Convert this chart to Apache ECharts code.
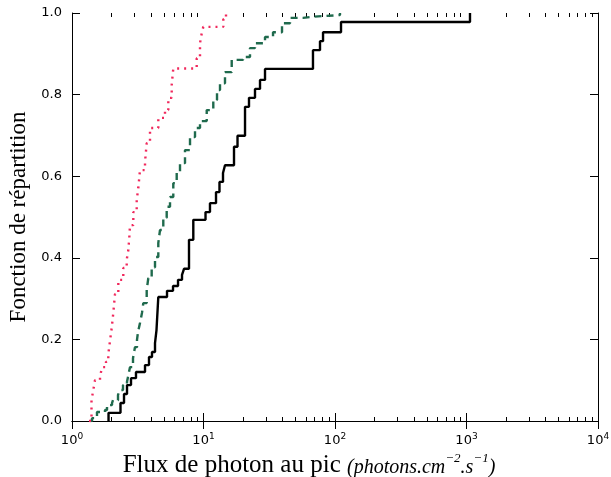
<!DOCTYPE html>
<html>
<head>
<meta charset="utf-8">
<script src="https://cdn.jsdelivr.net/npm/echarts@6/dist/echarts.min.js"></script>
<style>
  html, body { margin: 0; padding: 0; background: #fff; }
  #chart { width: 611px; height: 477px; }
</style>
</head>
<body>
<div id="chart"></div>
<script>
// step positions (x = flux, y = cumulative fraction)
var blackX = [1.896, 2.338, 2.486, 2.62, 2.81, 3.066, 3.591, 3.851, 4.058, 4.278, 4.391, 4.532,
              5.279, 5.864, 6.401, 6.864, 7.108, 7.758, 8.365, 10.36, 11.2, 12.45, 13.23, 14.07,
              14.57, 17.06, 18.14, 20.69, 22.18, 24.64, 26.9, 29.36, 68.0, 76.9, 81.1, 111.1, 1063];
var blackY = [0.02, 0.044, 0.066, 0.088, 0.105, 0.12, 0.137, 0.157, 0.169, 0.191, 0.223, 0.304,
              0.319, 0.331, 0.346, 0.358, 0.373, 0.444, 0.493, 0.512, 0.534, 0.561, 0.586, 0.608,
              0.627, 0.672, 0.699, 0.77, 0.792, 0.814, 0.836, 0.863, 0.909, 0.931, 0.953, 0.978, 1.0];

var greenX = [1.37, 1.42, 1.549, 1.782, 1.846, 2.015, 2.05, 2.238, 2.317, 2.443, 2.62, 2.666,
              2.761, 2.91, 3.013, 3.121, 3.176, 3.289, 3.406, 3.485, 3.699, 3.804, 4.036, 4.278,
              4.532, 4.669, 4.946, 5.25, 5.563, 5.892, 6.255, 6.627, 7.233, 7.897, 8.618, 9.406,
              10.58, 11.87, 12.67, 13.35, 14.57, 16.39, 19.97, 22.57, 24.64, 29.36, 33.78, 39.54,
              45.49, 57.1, 68.0, 109.1];
var greenY = [0, 0.007, 0.022, 0.027, 0.039, 0.044, 0.051, 0.064, 0.076, 0.088, 0.096, 0.108,
              0.132, 0.154, 0.181, 0.199, 0.218, 0.24, 0.265, 0.289, 0.321, 0.35, 0.377, 0.402,
              0.436, 0.468, 0.498, 0.525, 0.549, 0.583, 0.608, 0.632, 0.664, 0.696, 0.718, 0.735,
              0.762, 0.787, 0.811, 0.828, 0.855, 0.885, 0.892, 0.914, 0.926, 0.941, 0.953, 0.975,
              0.988, 0.991, 0.995, 1.0];

var redX = [1.347, 1.407, 1.452, 1.496, 1.633, 1.691, 1.814, 1.888, 1.945, 2.004, 2.061, 2.123,
            2.25, 2.455, 2.606, 2.68, 2.727, 2.761, 2.926, 3.105, 3.193, 3.289, 3.591, 3.699,
            3.919, 4.532, 5.096, 5.399, 5.731, 5.892, 8.877, 9.406, 9.69, 9.965, 14.15, 14.83];
var redY = [0, 0.051, 0.076, 0.1, 0.108, 0.132, 0.145, 0.164, 0.196, 0.228, 0.265, 0.311,
            0.346, 0.375, 0.395, 0.419, 0.449, 0.48, 0.512, 0.542, 0.571, 0.615, 0.635, 0.681,
            0.718, 0.743, 0.762, 0.792, 0.824, 0.864, 0.889, 0.926, 0.95, 0.966, 0.985, 1.0];

var yTicks = [0, 0.2, 0.4, 0.6, 0.8, 1.0];
var minorX = [2, 3, 4, 5, 6, 7, 8, 9, 20, 30, 40, 50, 60, 70, 80, 90,
              200, 300, 400, 500, 600, 700, 800, 900, 2000, 3000, 4000, 5000, 6000, 7000, 8000, 9000];

function pairs(xs, ys, start) {
    var out = [];
    if (start) out.push([xs[0], 0]);
    for (var i = 0; i < xs.length; i++) out.push([xs[i], ys[i]]);
    return out;
}

var sup = { fontSize: 9, verticalAlign: 'top', padding: [0, 0, 8, 0], fontFamily: 'DejaVu Sans', color: '#000' };

var myChart = echarts.init(document.getElementById('chart'));
myChart.setOption({
    animation: false,
    grid: { left: 72, right: 13, top: 13, bottom: 56, containLabel: false, outerBoundsMode: 'none' },
    xAxis: [{
        type: 'log', logBase: 10, min: 1, max: 10000, gridIndex: 0, position: 'bottom',
        axisLine: { lineStyle: { color: '#000', width: 1 } },
        axisTick: { inside: true, length: 8, lineStyle: { color: '#000' } },
        splitLine: { show: false },
        axisLabel: {
            margin: 11, color: '#000', fontSize: 13, fontFamily: 'DejaVu Sans',
            formatter: function (v) { return '10{s|' + Math.round(Math.log10(v)) + '}'; },
            rich: { s: sup }
        },
        name: 'Flux de photon au pic {i|(photons.cm}{is|−2}{i|.s}{is|−1}{i|)}',
        nameLocation: 'middle', nameGap: 31,
        nameTextStyle: {
            fontFamily: 'Liberation Serif', fontSize: 25, color: '#000', padding: [0, 52, 0, 0],
            rich: {
                i: { fontFamily: 'Liberation Serif', fontStyle: 'italic', fontSize: 20, color: '#000',
                     padding: [6, 0, 0, 0] },
                is: { fontFamily: 'Liberation Serif', fontStyle: 'italic', fontSize: 13, color: '#000',
                      verticalAlign: 'top', padding: [0, 0, 6, 0] }
            }
        }
    }, {
        type: 'log', logBase: 10, min: 1, max: 10000, gridIndex: 0, position: 'top',
        axisLine: { lineStyle: { color: '#000', width: 1 } },
        axisTick: { inside: true, length: 8, lineStyle: { color: '#000' } },
        axisLabel: { show: false }, splitLine: { show: false }
    }, {
        type: 'log', logBase: 10, min: 1, max: 10000, gridIndex: 0, position: 'bottom',
        axisLine: { show: false },
        axisTick: { inside: true, length: 4, customValues: minorX, lineStyle: { color: '#000' } },
        axisLabel: { show: false }, splitLine: { show: false }
    }, {
        type: 'log', logBase: 10, min: 1, max: 10000, gridIndex: 0, position: 'top',
        axisLine: { show: false },
        axisTick: { inside: true, length: 4, customValues: minorX, lineStyle: { color: '#000' } },
        axisLabel: { show: false }, splitLine: { show: false }
    }],
    yAxis: [{
        type: 'value', min: 0, max: 1, interval: 0.2, position: 'left',
        axisLine: { show: true, lineStyle: { color: '#000', width: 1 } },
        axisTick: { show: true, inside: true, length: 8, customValues: yTicks, lineStyle: { color: '#000' } },
        splitLine: { show: false },
        axisLabel: {
            margin: 10, color: '#000', fontSize: 13, fontFamily: 'DejaVu Sans', customValues: yTicks,
            formatter: function (v) { return v.toFixed(1); }
        },
        name: 'Fonction de répartition', nameLocation: 'middle', nameGap: 37, nameRotate: 90,
        nameTextStyle: { fontFamily: 'Liberation Serif', fontSize: 23, color: '#000' }
    }, {
        type: 'value', min: 0, max: 1, interval: 0.2, position: 'right',
        axisLine: { show: true, lineStyle: { color: '#000', width: 1 } },
        axisTick: { show: true, inside: true, length: 8, lineStyle: { color: '#000' } },
        axisLabel: { show: false }, splitLine: { show: false }
    }],
    series: [{
        type: 'line', step: 'end', showSymbol: false, xAxisIndex: 0, yAxisIndex: 0,
        data: pairs(blackX, blackY, true),
        lineStyle: { color: '#000', width: 2.4 }
    }, {
        type: 'line', step: 'end', showSymbol: false, xAxisIndex: 0, yAxisIndex: 0,
        data: pairs(greenX, greenY, false),
        lineStyle: { color: '#1f6a4d', width: 2.4, type: [7, 5] }
    }, {
        type: 'line', step: 'end', showSymbol: false, xAxisIndex: 0, yAxisIndex: 0,
        data: pairs(redX, redY, false),
        lineStyle: { color: '#f0285c', width: 2.4, type: [2, 5] }
    }]
});
</script>
</body>
</html>
